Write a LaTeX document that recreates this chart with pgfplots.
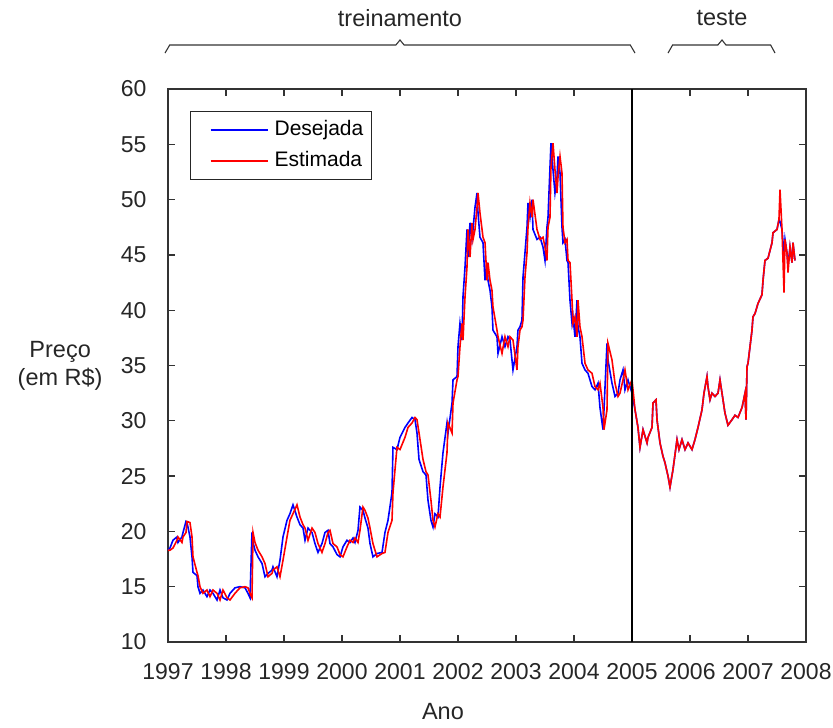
\documentclass[border=0pt]{standalone}
\usepackage{fontspec}
\setmainfont{Liberation Sans}
\usepackage{pgfplots}
\usepackage{pgfplotstable}
\pgfplotsset{compat=1.18}

\pgfplotstableread{
x d e
1997.000 18.3 18.3
1997.034 18.5 18.3
1997.086 19.2 18.5
1997.155 19.5 19.2
1997.172 19.0 19.5
1997.241 19.5 19.0
1997.259 19.9 19.5
1997.310 20.9 19.9
1997.328 20.8 20.9
1997.379 19.5 20.8
1997.414 17.7 19.5
1997.431 16.3 17.7
1997.500 16.0 16.3
1997.517 15.0 16.0
1997.552 14.4 15.0
1997.603 14.7 14.4
1997.672 14.1 14.7
1997.724 14.7 14.1
1997.776 14.4 14.7
1997.845 13.8 14.4
1997.897 14.7 13.8
1997.948 14.0 14.7
1998.017 13.8 14.0
1998.069 14.4 13.8
1998.155 14.9 14.4
1998.241 15.0 14.9
1998.328 14.9 15.0
1998.379 14.4 14.9
1998.414 14.0 14.4
1998.448 19.9 14.0
1998.466 19.0 19.9
1998.500 18.3 19.0
1998.552 17.7 18.3
1998.621 17.1 17.7
1998.672 15.9 17.1
1998.724 16.2 15.9
1998.793 16.5 16.2
1998.810 16.8 16.5
1998.879 15.9 16.8
1998.931 17.4 15.9
1998.983 19.5 17.4
1999.052 21.0 19.5
1999.103 21.6 21.0
1999.155 22.4 21.6
1999.224 21.3 22.4
1999.276 20.6 21.3
1999.328 20.3 20.6
1999.362 19.2 20.3
1999.414 20.3 19.2
1999.483 19.9 20.3
1999.534 18.9 19.9
1999.586 18.1 18.9
1999.655 18.9 18.1
1999.707 19.9 18.9
1999.759 20.1 19.9
1999.793 18.9 20.1
1999.845 18.6 18.9
1999.914 17.9 18.6
1999.966 17.7 17.9
2000.017 18.6 17.7
2000.086 19.2 18.6
2000.138 19.0 19.2
2000.190 19.4 19.0
2000.224 19.0 19.4
2000.276 20.1 19.0
2000.310 22.2 20.1
2000.362 21.9 22.2
2000.397 21.2 21.9
2000.448 20.3 21.2
2000.483 18.9 20.3
2000.534 17.7 18.9
2000.603 18.0 17.7
2000.690 18.1 18.0
2000.741 19.9 18.1
2000.793 21.0 19.9
2000.862 23.5 21.0
2000.879 27.6 23.5
2000.948 27.4 27.6
2001.000 28.5 27.4
2001.086 29.4 28.5
2001.138 29.8 29.4
2001.207 30.3 29.8
2001.259 30.1 30.3
2001.293 28.9 30.1
2001.328 26.5 28.9
2001.397 25.4 26.5
2001.448 25.1 25.4
2001.483 22.8 25.1
2001.534 21.0 22.8
2001.569 20.4 21.0
2001.603 21.6 20.4
2001.655 21.3 21.6
2001.690 24.0 21.3
2001.741 27.1 24.0
2001.810 29.8 27.1
2001.828 28.9 29.8
2001.897 31.6 28.9
2001.914 33.7 31.6
2001.983 34.0 33.7
2002.000 36.7 34.0
2002.034 38.8 36.7
2002.069 37.3 38.8
2002.086 41.2 37.3
2002.121 43.9 41.2
2002.155 47.3 43.9
2002.172 44.8 47.3
2002.207 47.9 44.8
2002.241 46.4 47.9
2002.259 47.3 46.4
2002.293 49.3 47.3
2002.328 50.6 49.3
2002.345 48.8 50.6
2002.379 46.6 48.8
2002.431 46.1 46.6
2002.466 42.7 46.1
2002.500 44.3 42.7
2002.517 42.7 44.3
2002.552 41.8 42.7
2002.586 40.3 41.8
2002.603 38.2 40.3
2002.672 37.6 38.2
2002.690 36.1 37.6
2002.759 37.6 36.1
2002.810 36.7 37.6
2002.862 37.6 36.7
2002.897 37.3 37.6
2002.948 34.6 37.3
2003.017 36.7 34.6
2003.034 38.2 36.7
2003.069 38.5 38.2
2003.103 39.1 38.5
2003.121 43.0 39.1
2003.155 45.2 43.0
2003.190 47.5 45.2
2003.207 49.7 47.5
2003.241 48.4 49.7
2003.276 50.0 48.4
2003.293 47.3 50.0
2003.362 46.4 47.3
2003.414 46.6 46.4
2003.466 45.7 46.6
2003.500 44.5 45.7
2003.534 47.5 44.5
2003.552 48.4 47.5
2003.586 52.9 48.4
2003.603 55.1 52.9
2003.638 52.7 55.1
2003.672 50.6 52.7
2003.707 52.0 50.6
2003.724 53.9 52.0
2003.759 52.4 53.9
2003.793 47.5 52.4
2003.810 46.1 47.5
2003.845 46.4 46.1
2003.879 44.5 46.4
2003.897 44.3 44.5
2003.931 40.9 44.3
2003.966 38.8 40.9
2003.983 39.4 38.8
2004.017 37.6 39.4
2004.052 40.9 37.6
2004.069 38.5 40.9
2004.103 37.6 38.5
2004.138 35.2 37.6
2004.190 34.6 35.2
2004.241 34.3 34.6
2004.310 33.1 34.3
2004.362 32.8 33.1
2004.414 33.4 32.8
2004.448 31.2 33.4
2004.500 29.2 31.2
2004.517 31.0 29.2
2004.569 37.0 31.0
2004.586 35.5 37.0
2004.655 33.4 35.5
2004.707 32.2 33.4
2004.759 32.5 32.2
2004.793 33.7 32.5
2004.845 34.6 33.7
2004.879 32.8 34.6
2004.931 33.7 32.8
2005.000 32.5 33.7
2005.052 31.0 31.0
2005.103 29.4 29.4
2005.138 27.6 27.6
2005.190 29.2 29.2
2005.259 28.0 28.0
2005.276 28.5 28.5
2005.345 29.4 29.4
2005.362 31.6 31.6
2005.414 31.9 31.9
2005.431 30.1 30.1
2005.483 28.0 28.0
2005.534 26.8 26.8
2005.569 26.2 26.2
2005.621 25.0 25.0
2005.655 24.0 24.0
2005.707 25.6 25.6
2005.776 28.3 28.3
2005.810 27.4 27.4
2005.862 28.3 28.3
2005.914 27.4 27.4
2005.966 28.0 28.0
2006.034 27.4 27.4
2006.086 28.3 28.3
2006.138 29.4 29.4
2006.207 31.0 31.0
2006.241 32.5 32.5
2006.293 34.0 34.0
2006.310 33.1 33.1
2006.345 31.9 31.9
2006.379 32.5 32.5
2006.431 32.2 32.2
2006.483 32.5 32.5
2006.517 33.7 33.7
2006.569 31.9 31.9
2006.603 30.7 30.7
2006.655 29.6 29.6
2006.724 30.1 30.1
2006.776 30.5 30.5
2006.828 30.3 30.3
2006.897 31.2 31.2
2006.948 32.5 32.5
2006.966 30.1 30.1
2006.983 34.9 34.9
2007.000 35.2 35.2
2007.069 38.2 38.2
2007.086 39.4 39.4
2007.121 39.7 39.7
2007.172 40.6 40.6
2007.241 41.4 41.4
2007.259 42.7 42.7
2007.293 44.5 44.5
2007.345 44.7 44.7
2007.414 46.1 46.1
2007.431 47.0 47.0
2007.500 47.3 47.3
2007.534 48.2 48.2
2007.552 48.0 50.9
2007.586 47.3 47.3
2007.621 45.0 41.6
2007.638 46.4 46.4
2007.672 45.2 45.2
2007.690 44.0 43.4
2007.724 45.7 45.7
2007.759 44.3 44.3
2007.776 46.1 46.1
2007.810 44.5 44.5
}\datatable

\begin{document}
\fontsize{23.5}{28}\selectfont
\begin{tikzpicture}
\begin{axis}[
  width=638pt, height=553pt, scale only axis,
  xmin=1997, xmax=2008, ymin=10, ymax=60,
  xtick={1997,1998,...,2008}, ytick={10,15,...,60},
  /pgf/number format/assume math mode=true,
  /pgf/number format/1000 sep={},
  tick align=inside, tick pos=both,
  major tick length=7pt,
  axis line style={line width=1.5pt, black!80},
  tick style={line width=1.3pt, black!80},
  every tick label/.append style={font=\fontsize{23}{26}\selectfont, text=black!85},
  yticklabel style={xshift=-13.5pt},
  xticklabel style={yshift=-13pt},
  clip=false,
  legend cell align=left,
  legend style={at={(rel axis cs:0.0345,0.960)}, anchor=north west,
    draw=black!85, line width=1.2pt, font=\fontsize{21}{24}\selectfont,
    row sep=8pt, inner xsep=6pt, inner ysep=7pt},
  legend image code/.code={\path[draw=none] (-14pt,0pt) -- (62pt,0pt); \draw[#1, line width=1.5pt] (0pt,0pt) -- (57pt,0pt);},
]
\addplot[blue, line width=1.6pt] table[x=x, y=d] {\datatable};
\addlegendentry{Desejada}
\addplot[red, line width=1.6pt] table[x=x, y=e] {\datatable};
\addlegendentry{Estimada}
\addplot[black, line width=1.3pt, forget plot] coordinates {(2005,10) (2005,60)};

\coordinate (sw) at (rel axis cs:0,0);
\draw[black!80, line width=1.1pt] (axis cs:1996.948,63.25) -- (axis cs:1997.03,63.98) -- (axis cs:2000.93,63.98) -- (axis cs:2001.0,64.43) -- (axis cs:2001.07,63.98) -- (axis cs:2004.97,63.98) -- (axis cs:2005.052,63.25);
\draw[black!80, line width=1.1pt] (axis cs:2005.621,63.25) -- (axis cs:2005.70,63.98) -- (axis cs:2006.48,63.98) -- (axis cs:2006.552,64.43) -- (axis cs:2006.62,63.98) -- (axis cs:2007.39,63.98) -- (axis cs:2007.466,63.25);
\node[text=black!85] at (axis cs:2001.0,66.42) {treinamento};
\node[text=black!85] at (axis cs:2006.552,66.42) {teste};
\node[text=black!85, align=center, font=\fontsize{23.5}{28}\selectfont] at (rel axis cs:-0.169,0.499) {Preço\\(em R\$)};
\node[text=black!85] at (rel axis cs:0.431,-0.1266) {Ano};
\end{axis}
\pgfresetboundingbox
\path (sw) ++(-168pt,-86pt) rectangle ++(833pt,728pt);
\end{tikzpicture}
\end{document}
